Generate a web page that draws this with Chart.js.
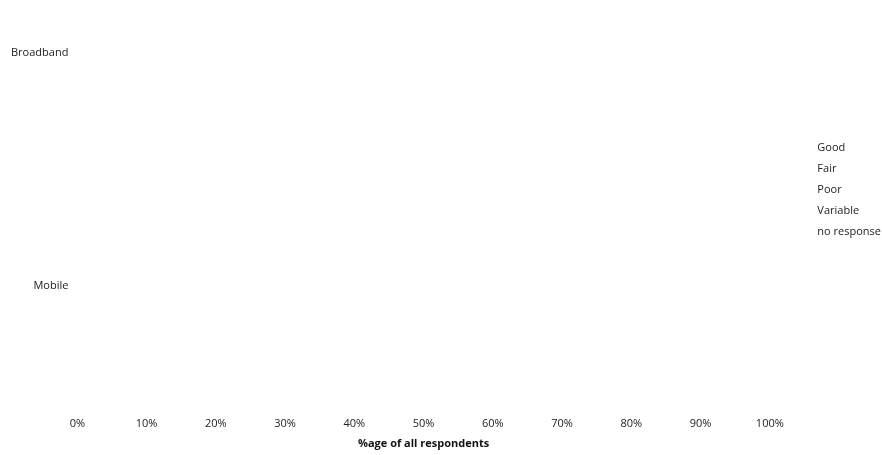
<!DOCTYPE html>
<html lang="en">
<head>
    <meta charset="UTF-8">
    <title>Broadband and Mobile</title>
    <style>
        body {
            margin: 0;
            padding: 0;
            background-color: #ffffff;
        }

        .chart-container {
            width: 882px;
            height: 455px;
        }
    </style>
</head>
<body>
    <div class="chart-container">
        <canvas id="qualityChart"></canvas>
    </div>

    <script src="https://cdn.jsdelivr.net/npm/chart.js@4"></script>
    <script>
        // services on the vertical axis (0 = Broadband, 1 = Mobile)
        const services = ['Broadband', 'Mobile'];
        const ratings = ['Good', 'Fair', 'Poor', 'Variable', 'no response'];

        const good = [6, 1];
        const fair = [12, 14];
        const poor = [4, 7];
        const variable = [4, 4];
        const noResponse = [1, 1];

        const xTicks = [0, 10, 20, 30, 40, 50, 60, 70, 80, 90, 100];

        const seriesValues = [good, fair, poor, variable, noResponse];

        function makeDataset(label, values) {
            return {
                label: label,
                data: values.map((v, i) => ({ x: v, y: i })),
                backgroundColor: '#ffffff',
                borderWidth: 0
            };
        }

        const textFont = { family: 'Open Sans', size: 11 };

        const ctx = document.getElementById('qualityChart').getContext('2d');
        new Chart(ctx, {
            type: 'bar',
            data: {
                datasets: ratings.map((r, i) => makeDataset(r, seriesValues[i]))
            },
            options: {
                indexAxis: 'y',
                responsive: true,
                maintainAspectRatio: false,
                animation: false,
                layout: {
                    padding: { left: 10, right: -9, top: 0, bottom: 5 }
                },
                scales: {
                    x: {
                        type: 'linear',
                        min: 0,
                        max: 100,
                        grid: { display: false },
                        border: { display: false },
                        afterBuildTicks: axis => {
                            axis.ticks = xTicks.map(v => ({ value: v }));
                        },
                        ticks: {
                            color: '#222222',
                            font: textFont,
                            padding: 14,
                            maxRotation: 0,
                            callback: v => v + '%'
                        },
                        title: {
                            display: true,
                            text: '%age of all respondents',
                            color: '#111111',
                            font: { family: 'Open Sans', size: 11, weight: 'bold' },
                            padding: { top: -8, bottom: 0 }
                        }
                    },
                    y: {
                        type: 'linear',
                        reverse: true,
                        offset: false,
                        min: -0.193,
                        max: 1.472,
                        grid: { display: false },
                        border: { display: false },
                        afterBuildTicks: axis => {
                            axis.ticks = [{ value: 0 }, { value: 1 }];
                        },
                        ticks: {
                            color: '#222222',
                            font: textFont,
                            padding: 1,
                            callback: v => services[v]
                        }
                    }
                },
                plugins: {
                    legend: {
                        position: 'right',
                        align: 'start',
                        title: {
                            display: true,
                            text: ' ',
                            font: textFont,
                            padding: { top: 124, bottom: 0 }
                        },
                        labels: {
                            color: '#222222',
                            font: textFont,
                            boxWidth: 42,
                            boxHeight: 21,
                            padding: 0
                        }
                    },
                    tooltip: { enabled: false }
                }
            }
        });
    </script>
</body>
</html>
